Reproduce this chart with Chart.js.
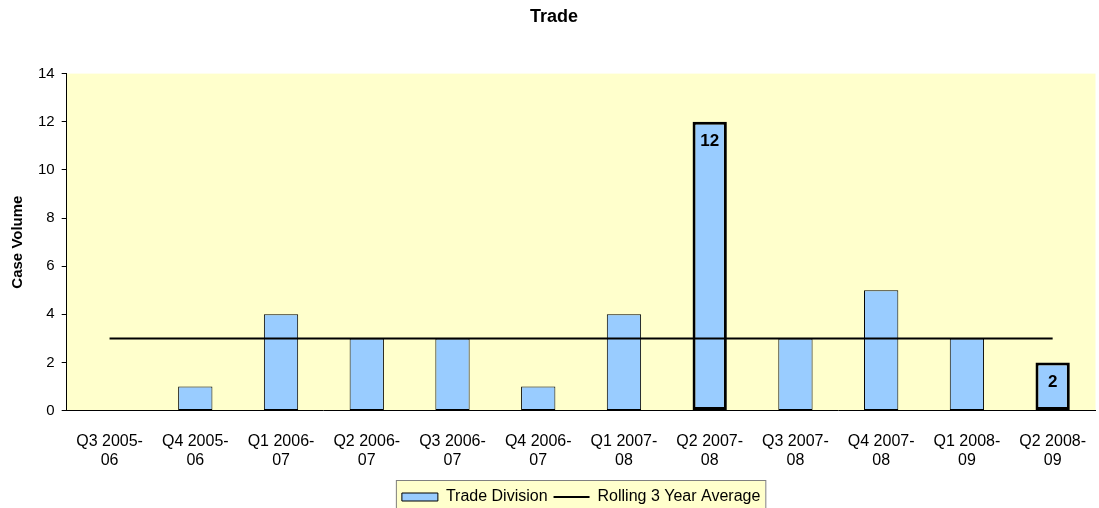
<!DOCTYPE html>
<html lang="en">
<head>
    <meta charset="UTF-8">
    <title>Trade</title>
    <script src="https://cdn.jsdelivr.net/npm/chart.js"></script>
    <style>
        html, body { margin: 0; padding: 0; background: #fff; }
        #wrap { width: 1099px; height: 508px; }
    </style>
</head>
<body>
    <div id="wrap"><canvas id="tradeChart"></canvas></div>
    <script>
        // Chart data
        const quarters = [
            ['Q3 2005-', '06'], ['Q4 2005-', '06'], ['Q1 2006-', '07'], ['Q2 2006-', '07'],
            ['Q3 2006-', '07'], ['Q4 2006-', '07'], ['Q1 2007-', '08'], ['Q2 2007-', '08'],
            ['Q3 2007-', '08'], ['Q4 2007-', '08'], ['Q1 2008-', '09'], ['Q2 2008-', '09']
        ];
        const tradeDivision = [0, 1, 4, 3, 3, 1, 4, 12, 3, 5, 3, 2];
        const rollingAverage = [3, 3, 3, 3, 3, 3, 3, 3, 3, 3, 3, 3];
        const highlighted = [7, 11];

        const FONT = "'Liberation Sans', Arial, Helvetica, sans-serif";

        // centre the legend under the plot area instead of the canvas
        const legendShift = {
            id: 'legendShift',
            afterUpdate(chart) {
                const { legend, chartArea: a } = chart;
                if (!legend) return;
                const d = (a.left + a.right) / 2 - (legend.left + legend.right) / 2;
                legend.left += d;
                legend.right += d;
                legend.legendHitBoxes.forEach(b => { b.left += d; });
            }
        };

        // yellow plot background + legend box
        const backgrounds = {
            id: 'backgrounds',
            beforeDraw(chart) {
                const { ctx, chartArea: a, legend } = chart;
                ctx.save();
                ctx.fillStyle = '#FFFFCC';
                ctx.fillRect(a.left, a.top, a.right - a.left, a.bottom - a.top);
                if (legend && legend.legendHitBoxes.length) {
                    const boxes = legend.legendHitBoxes;
                    const last = boxes[boxes.length - 1];
                    const x0 = boxes[0].left - 6;
                    const x1 = last.left + last.width + 5;
                    const y0 = boxes[0].top - 9;
                    ctx.fillRect(x0, y0, x1 - x0, 40);
                    ctx.strokeStyle = '#808080';
                    ctx.lineWidth = 1;
                    ctx.strokeRect(x0 + 0.5, y0 + 0.5, x1 - x0, 40);
                }
                ctx.restore();
            }
        };

        // value labels on highlighted bars
        const barLabels = {
            id: 'barLabels',
            afterDatasetsDraw(chart) {
                const { ctx } = chart;
                const meta = chart.getDatasetMeta(0);
                ctx.save();
                ctx.font = 'bold 17px ' + FONT;
                ctx.fillStyle = '#000';
                ctx.textAlign = 'center';
                ctx.textBaseline = 'middle';
                highlighted.forEach(i => {
                    const bar = meta.data[i];
                    ctx.fillText(String(tradeDivision[i]), bar.x, bar.y + 20);
                });
                ctx.restore();
            }
        };

        new Chart(document.getElementById('tradeChart'), {
            type: 'bar',
            data: {
                labels: quarters,
                datasets: [{
                    label: 'Trade Division',
                    data: tradeDivision,
                    backgroundColor: '#99CCFF',
                    borderColor: '#000',
                    borderWidth: tradeDivision.map((v, i) => highlighted.includes(i) ? 3 : 1),
                    borderSkipped: false,
                    categoryPercentage: 1,
                    barPercentage: 0.4,
                    pointStyle: 'rect',
                    order: 2
                }, {
                    type: 'line',
                    label: 'Rolling 3 Year Average',
                    data: rollingAverage,
                    borderColor: '#000',
                    backgroundColor: '#000',
                    borderWidth: 2,
                    pointRadius: 0,
                    pointStyle: 'line',
                    order: 1
                }]
            },
            options: {
                responsive: true,
                maintainAspectRatio: false,
                animation: false,
                layout: { padding: { left: 9, right: 0, top: 2, bottom: -7 } },
                plugins: {
                    title: {
                        display: true,
                        text: 'Trade',
                        color: '#000',
                        font: { family: FONT, size: 18, weight: 'bold' },
                        padding: { top: 4, bottom: 46 }
                    },
                    legend: {
                        position: 'bottom',
                        labels: {
                            color: '#000',
                            font: { family: FONT, size: 16 },
                            usePointStyle: true,
                            pointStyleWidth: 36,
                            boxHeight: 8,
                            padding: 6,
                            sort: (a, b) => a.datasetIndex - b.datasetIndex
                        }
                    },
                    tooltip: { enabled: false }
                },
                scales: {
                    x: {
                        grid: { display: false },
                        border: { color: '#000', width: 1 },
                        ticks: {
                            color: '#000',
                            font: { family: FONT, size: 16, lineHeight: 1.2 },
                            maxRotation: 0,
                            autoSkip: false,
                            padding: 13
                        }
                    },
                    y: {
                        min: 0,
                        max: 14,
                        ticks: {
                            stepSize: 2,
                            color: '#000',
                            font: { family: FONT, size: 15 },
                            padding: 7
                        },
                        grid: { drawOnChartArea: false, tickLength: 5, color: '#000' },
                        border: { color: '#000', width: 1 },
                        title: {
                            display: true,
                            text: 'Case Volume',
                            color: '#000',
                            font: { family: FONT, size: 15, weight: 'bold' },
                            padding: { top: 0, bottom: 4 }
                        }
                    }
                }
            },
            plugins: [legendShift, backgrounds, barLabels]
        });
    </script>
</body>
</html>
